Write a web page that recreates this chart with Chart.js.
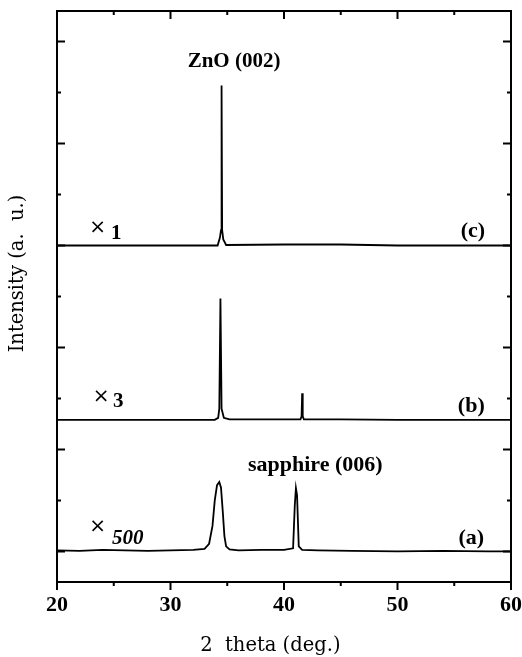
<!DOCTYPE html>
<html>
<head>
<meta charset="utf-8">
<script src="https://cdn.jsdelivr.net/npm/chart.js@4.4.0/dist/chart.umd.min.js"></script>
<style>
  html, body { margin: 0; padding: 0; background: #fff; }
  #wrap { width: 522px; height: 657px; }
</style>
</head>
<body>
<div id="wrap"><canvas id="xrd"></canvas></div>
<script>
// XRD patterns. Intensity is in offset "tick" units.
// (a) x500
const thetaA = [20, 22, 24, 26, 28, 30, 32, 33.0, 33.4, 33.7, 33.9, 34.1, 34.3, 34.45, 34.6, 34.75, 34.9, 35.2, 36, 38, 40, 40.8, 40.95, 41.05, 41.15, 41.3, 41.6, 43, 46, 50, 54, 58, 60];
const intensityA = [0.02, 0.01, 0.03, 0.02, 0.01, 0.02, 0.03, 0.05, 0.15, 0.5, 1.0, 1.3, 1.36, 1.25, 0.8, 0.3, 0.1, 0.04, 0.02, 0.03, 0.03, 0.06, 0.9, 1.24, 1.1, 0.1, 0.03, 0.02, 0.01, 0.0, 0.01, 0.0, 0.0];
// (b) x3
const thetaB = [20, 25, 30, 33.9, 34.2, 34.3, 34.4, 34.5, 34.7, 35.2, 38, 41.45, 41.55, 41.6, 41.65, 41.75, 45, 50, 55, 60];
const intensityB = [2.58, 2.58, 2.58, 2.58, 2.62, 2.8, 4.96, 2.8, 2.62, 2.59, 2.59, 2.59, 2.65, 3.1, 2.65, 2.59, 2.59, 2.58, 2.58, 2.58];
// (c) x1
const thetaC = [20, 25, 30, 34.15, 34.35, 34.45, 34.5, 34.55, 34.65, 34.9, 40, 45, 50, 55, 60];
const intensityC = [6.0, 6.0, 6.0, 6.0, 6.15, 6.3, 9.14, 6.3, 6.12, 6.01, 6.02, 6.02, 6.0, 6.0, 6.0];

const xTicks = [20, 30, 40, 50, 60];
const xMinorTicks = [25, 35, 45, 55];
const yTicks = [0, 2, 4, 6, 8, 10];
const yMinorTicks = [1, 3, 5, 7, 9];

const peakLabels = ['ZnO (002)', 'sapphire (006)'];
const curveLabels = ['(a)', '(b)', '(c)'];
const scaleFactors = ['500', '3', '1'];

const serif = '"Liberation Serif", "Times New Roman", serif';
const wideSerif = '"DejaVu Serif", serif';

function pts(xs, ys) {
  return xs.map((x, i) => ({ x: x, y: ys[i] }));
}

function curve(xs, ys) {
  return {
    data: pts(xs, ys),
    showLine: true,
    borderColor: '#000',
    borderWidth: 1.8,
    pointRadius: 0,
    tension: 0,
    fill: false
  };
}

// where the text annotations sit, in data units
const notes = [
  { text: peakLabels[0], x: 35.6, y: 9.6, font: 'bold 21px ' + serif, align: 'center' },
  { text: peakLabels[1], x: 42.75, y: 1.69, font: 'bold 22px ' + serif, align: 'center' },
  { text: curveLabels[0], x: 56.5, y: 0.26, font: 'bold 22px ' + serif, align: 'center' },
  { text: curveLabels[1], x: 56.5, y: 2.85, font: 'bold 22px ' + serif, align: 'center' },
  { text: curveLabels[2], x: 56.65, y: 6.27, font: 'bold 22px ' + serif, align: 'center' },
  { text: '\u00d7', x: 23.57, y: 0.48, font: '20px "DejaVu Sans", sans-serif', align: 'center' },
  { text: '\u00d7', x: 23.88, y: 3.03, font: '20px "DejaVu Sans", sans-serif', align: 'center' },
  { text: '\u00d7', x: 23.57, y: 6.35, font: '20px "DejaVu Sans", sans-serif', align: 'center' },
  { text: scaleFactors[0], x: 24.85, y: 0.26, font: 'italic bold 21px ' + serif, align: 'left' },
  { text: scaleFactors[1], x: 24.93, y: 2.93, font: 'bold 21px ' + serif, align: 'left' },
  { text: scaleFactors[2], x: 24.76, y: 6.23, font: 'bold 21px ' + serif, align: 'left' }
];

// frame, inward/outward tick marks, labels and the axis titles
const framePlugin = {
  id: 'frame',
  afterDraw(chart) {
    const { ctx, chartArea: a, scales: { x, y } } = chart;
    ctx.save();
    ctx.strokeStyle = '#000';
    ctx.lineWidth = 2;
    ctx.strokeRect(a.left, a.top, a.right - a.left, a.bottom - a.top);

    ctx.beginPath();
    const xt = xTicks.map(v => [v, 8]).concat(xMinorTicks.map(v => [v, 4]));
    xt.forEach(([v, len]) => {
      const px = x.getPixelForValue(v);
      ctx.moveTo(px, a.bottom);
      ctx.lineTo(px, a.bottom + len);
      ctx.moveTo(px, a.top);
      ctx.lineTo(px, a.top + len);
    });
    const yt = yTicks.map(v => [v, 8]).concat(yMinorTicks.map(v => [v, 4]));
    yt.forEach(([v, len]) => {
      const py = y.getPixelForValue(v);
      ctx.moveTo(a.left, py);
      ctx.lineTo(a.left + len, py);
      ctx.moveTo(a.right, py);
      ctx.lineTo(a.right - len, py);
    });
    ctx.stroke();

    ctx.fillStyle = '#000';
    ctx.textBaseline = 'middle';
    notes.forEach(n => {
      ctx.font = n.font;
      ctx.textAlign = n.align;
      ctx.fillText(n.text, x.getPixelForValue(n.x), y.getPixelForValue(n.y));
    });

    // x title sits a bit left of centre in the original
    ctx.textAlign = 'center';
    ctx.font = '19.5px ' + wideSerif;
    ctx.fillText('2  theta (deg.)', x.getPixelForValue(38.8), 646);

    ctx.translate(17.5, 273.5);
    ctx.rotate(-Math.PI / 2);
    ctx.fillText('Intensity (a.  u.)', 0, 0);
    ctx.restore();
  }
};

const ctx = document.getElementById('xrd').getContext('2d');
new Chart(ctx, {
  type: 'scatter',
  data: {
    datasets: [
      curve(thetaA, intensityA),
      curve(thetaB, intensityB),
      curve(thetaC, intensityC)
    ]
  },
  options: {
    responsive: true,
    maintainAspectRatio: false,
    animation: false,
    layout: { padding: { top: 11, right: 11, left: 0, bottom: 0 } },
    plugins: {
      legend: { display: false },
      tooltip: { enabled: false }
    },
    scales: {
      x: {
        type: 'linear',
        min: 20,
        max: 60,
        grid: { display: false, drawTicks: false },
        border: { display: false },
        afterBuildTicks: s => { s.ticks = xTicks.map(v => ({ value: v })); },
        ticks: {
          padding: 10,
          color: '#000',
          maxRotation: 0,
          font: { family: serif, size: 22, weight: 'bold' }
        },
        afterFit: s => { s.height = 75; s.paddingLeft = 0; s.paddingRight = 0; }
      },
      y: {
        type: 'linear',
        min: -0.6,
        max: 10.6,
        grid: { display: false, drawTicks: false },
        border: { display: false },
        ticks: { display: false },
        afterFit: s => { s.width = 57; }
      }
    }
  },
  plugins: [framePlugin]
});
</script>
</body>
</html>
